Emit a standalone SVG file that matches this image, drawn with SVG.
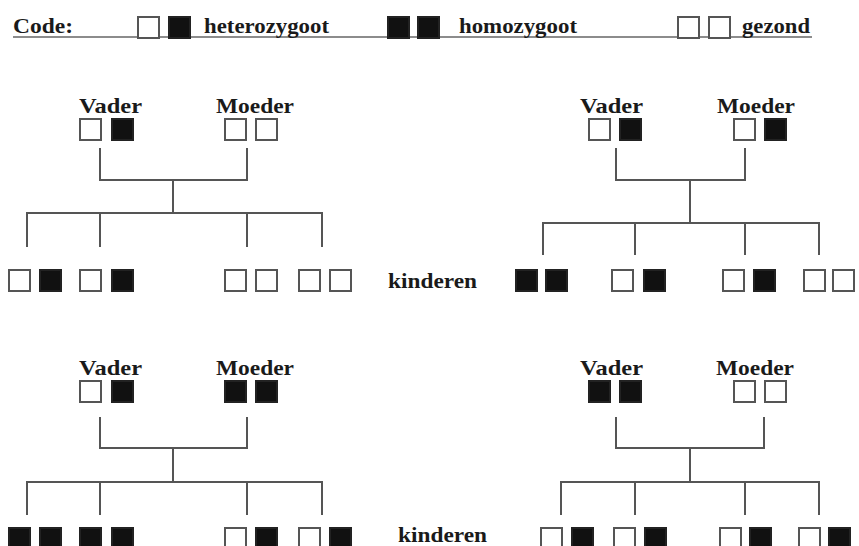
<svg xmlns="http://www.w3.org/2000/svg" width="859" height="546" viewBox="0 0 859 546">
<style>
.t{font-family:"Liberation Serif","Times New Roman",serif;font-weight:bold;font-size:21px;fill:#1a1a1a}
.w{fill:#fff;stroke:#555;stroke-width:2}
.b{fill:#111;stroke:#222;stroke-width:2}
.c{fill:none;stroke:#555;stroke-width:2}
</style>
<rect width="859" height="546" fill="#fff"/>
<g id="legend">
<line x1="13" y1="37" x2="812" y2="37" stroke="#666" stroke-width="1.5"/>
<text class="t" x="13" y="33" textLength="60" lengthAdjust="spacingAndGlyphs">Code:</text>
<rect class="w" x="138" y="17" width="21" height="21"/><rect class="b" x="169" y="17" width="21" height="21"/>
<text class="t" x="204" y="33" textLength="125" lengthAdjust="spacingAndGlyphs">heterozygoot</text>
<rect class="b" x="388" y="17" width="21" height="21"/><rect class="b" x="418" y="17" width="21" height="21"/>
<text class="t" x="459" y="33" textLength="118" lengthAdjust="spacingAndGlyphs">homozygoot</text>
<rect class="w" x="678" y="17" width="21" height="21"/><rect class="w" x="709" y="17" width="21" height="21"/>
<text class="t" x="742" y="33" textLength="68" lengthAdjust="spacingAndGlyphs">gezond</text>
</g>
<g id="connectors">
<path class="c" d="M100 148V180H247V148M173 180V213M27 247V213H322V247M100 213V247M247 213V247"/>
<path class="c" d="M616 148V180H745V148M690 180V223M543 255V223H819V255M635 223V255M745 223V255"/>
<path class="c" d="M100 417V448H247V417M173 448V482M27 515V482H322V515M100 482V515M247 482V515"/>
<path class="c" d="M616 417V448H764V417M690 448V482M561 515V482H819V515M635 482V515M745 482V515"/>
</g>
<!-- top-left family -->
<g id="tl-vader"><text class="t" x="79" y="113" textLength="63" lengthAdjust="spacingAndGlyphs">Vader</text>
<rect class="w" x="80" y="119" width="21" height="21"/><rect class="b" x="112" y="119" width="21" height="21"/></g>
<g id="tl-moeder"><text class="t" x="216" y="113" textLength="78" lengthAdjust="spacingAndGlyphs">Moeder</text>
<rect class="w" x="225" y="119" width="21" height="21"/><rect class="w" x="256" y="119" width="21" height="21"/></g>
<g id="tl-kind1"><rect class="w" x="9" y="270" width="21" height="21"/><rect class="b" x="40" y="270" width="21" height="21"/></g>
<g id="tl-kind2"><rect class="w" x="80" y="270" width="21" height="21"/><rect class="b" x="112" y="270" width="21" height="21"/></g>
<g id="tl-kind3"><rect class="w" x="225" y="270" width="21" height="21"/><rect class="w" x="256" y="270" width="21" height="21"/></g>
<g id="tl-kind4"><rect class="w" x="299" y="270" width="21" height="21"/><rect class="w" x="330" y="270" width="21" height="21"/></g>
<g id="label-kinderen-top"><text class="t" x="388" y="288" textLength="89" lengthAdjust="spacingAndGlyphs">kinderen</text></g>
<!-- top-right family -->
<g id="tr-vader"><text class="t" x="580" y="113" textLength="63" lengthAdjust="spacingAndGlyphs">Vader</text>
<rect class="w" x="589" y="119" width="21" height="21"/><rect class="b" x="620" y="119" width="21" height="21"/></g>
<g id="tr-moeder"><text class="t" x="717" y="113" textLength="78" lengthAdjust="spacingAndGlyphs">Moeder</text>
<rect class="w" x="734" y="119" width="21" height="21"/><rect class="b" x="765" y="119" width="21" height="21"/></g>
<g id="tr-kind1"><rect class="b" x="516" y="270" width="21" height="21"/><rect class="b" x="546" y="270" width="21" height="21"/></g>
<g id="tr-kind2"><rect class="w" x="612" y="270" width="21" height="21"/><rect class="b" x="644" y="270" width="21" height="21"/></g>
<g id="tr-kind3"><rect class="w" x="723" y="270" width="21" height="21"/><rect class="b" x="754" y="270" width="21" height="21"/></g>
<g id="tr-kind4"><rect class="w" x="804" y="270" width="21" height="21"/><rect class="w" x="833" y="270" width="21" height="21"/></g>
<!-- bottom-left family -->
<g id="bl-vader"><text class="t" x="79" y="375" textLength="63" lengthAdjust="spacingAndGlyphs">Vader</text>
<rect class="w" x="80" y="381" width="21" height="21"/><rect class="b" x="112" y="381" width="21" height="21"/></g>
<g id="bl-moeder"><text class="t" x="216" y="375" textLength="78" lengthAdjust="spacingAndGlyphs">Moeder</text>
<rect class="b" x="225" y="381" width="21" height="21"/><rect class="b" x="256" y="381" width="21" height="21"/></g>
<g id="bl-kind1"><rect class="b" x="9" y="528" width="21" height="21"/><rect class="b" x="40" y="528" width="21" height="21"/></g>
<g id="bl-kind2"><rect class="b" x="80" y="528" width="21" height="21"/><rect class="b" x="112" y="528" width="21" height="21"/></g>
<g id="bl-kind3"><rect class="w" x="225" y="528" width="21" height="21"/><rect class="b" x="256" y="528" width="21" height="21"/></g>
<g id="bl-kind4"><rect class="w" x="299" y="528" width="21" height="21"/><rect class="b" x="330" y="528" width="21" height="21"/></g>
<g id="label-kinderen-bottom"><text class="t" x="398" y="542" textLength="89" lengthAdjust="spacingAndGlyphs">kinderen</text></g>
<!-- bottom-right family -->
<g id="br-vader"><text class="t" x="580" y="375" textLength="63" lengthAdjust="spacingAndGlyphs">Vader</text>
<rect class="b" x="589" y="381" width="21" height="21"/><rect class="b" x="620" y="381" width="21" height="21"/></g>
<g id="br-moeder"><text class="t" x="716" y="375" textLength="78" lengthAdjust="spacingAndGlyphs">Moeder</text>
<rect class="w" x="734" y="381" width="21" height="21"/><rect class="w" x="765" y="381" width="21" height="21"/></g>
<g id="br-kind1"><rect class="w" x="541" y="528" width="21" height="21"/><rect class="b" x="572" y="528" width="21" height="21"/></g>
<g id="br-kind2"><rect class="w" x="614" y="528" width="21" height="21"/><rect class="b" x="645" y="528" width="21" height="21"/></g>
<g id="br-kind3"><rect class="w" x="720" y="528" width="21" height="21"/><rect class="b" x="750" y="528" width="21" height="21"/></g>
<g id="br-kind4"><rect class="w" x="799" y="528" width="21" height="21"/><rect class="b" x="829" y="528" width="21" height="21"/></g>
</svg>
